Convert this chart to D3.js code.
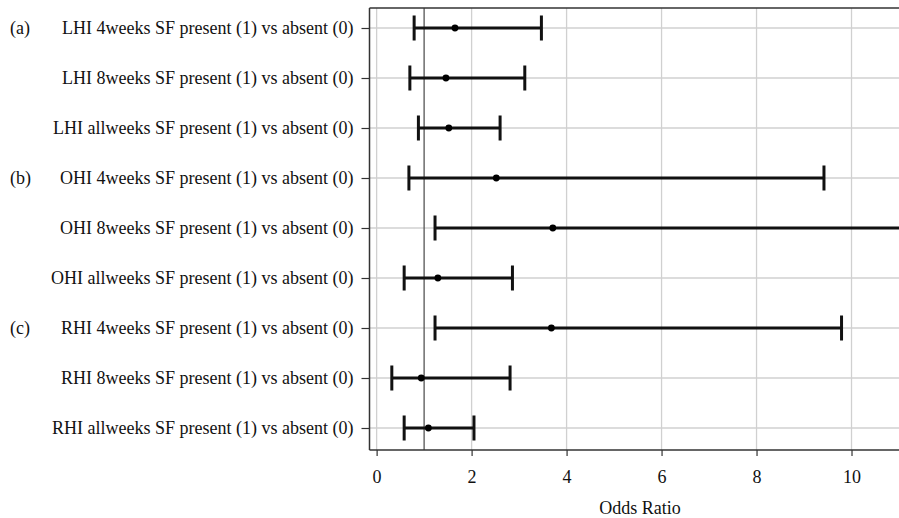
<!DOCTYPE html>
<html>
<head>
<meta charset="utf-8">
<script src="https://cdn.jsdelivr.net/npm/d3@7"></script>
<style>
  body { margin: 0; background: #fff; }
  svg { display: block; font-family: "Liberation Serif", "DejaVu Serif", serif; }
</style>
</head>
<body>
<div id="wrapper"></div>
<script>
// data
const labels = [
  "LHI 4weeks SF present (1) vs absent (0)",
  "LHI 8weeks SF present (1) vs absent (0)",
  "LHI allweeks SF present (1) vs absent (0)",
  "OHI 4weeks SF present (1) vs absent (0)",
  "OHI 8weeks SF present (1) vs absent (0)",
  "OHI allweeks SF present (1) vs absent (0)",
  "RHI 4weeks SF present (1) vs absent (0)",
  "RHI 8weeks SF present (1) vs absent (0)",
  "RHI allweeks SF present (1) vs absent (0)",
];
const groupTags = ["(a)", "", "", "(b)", "", "", "(c)", "", ""];
const oddsRatio = [1.65, 1.46, 1.52, 2.52, 3.71, 1.29, 3.68, 0.94, 1.09];
const lowerCI = [0.79, 0.70, 0.88, 0.68, 1.23, 0.58, 1.23, 0.32, 0.58];
const upperCI = [3.47, 3.12, 2.60, 9.42, 14.0, 2.86, 9.79, 2.81, 2.05];
const xTicks = [0, 2, 4, 6, 8, 10];
const refValue = 1;

const fontSize = "18px";

const dimensions = {
  width: 899,
  height: 518,
  margin: { top: 8, right: 0, bottom: 68, left: 369.5 },
};
dimensions.boundedWidth = dimensions.width - dimensions.margin.left - dimensions.margin.right;
dimensions.boundedHeight = dimensions.height - dimensions.margin.top - dimensions.margin.bottom;

const wrapper = d3.select("#wrapper").append("svg")
  .attr("width", dimensions.width)
  .attr("height", dimensions.height);

const bounds = wrapper.append("g")
  .attr("transform", `translate(${dimensions.margin.left},${dimensions.margin.top})`);

bounds.append("clipPath").attr("id", "plot-clip")
  .append("rect")
  .attr("width", dimensions.boundedWidth)
  .attr("height", dimensions.boundedHeight);

// scales
const xScale = d3.scaleLinear()
  .domain([-0.15, 11.0])
  .range([0, dimensions.boundedWidth]);

const yScale = d3.scalePoint()
  .domain(labels)
  .range([20, dimensions.boundedHeight - 22]);

const rows = labels.map((d, i) => ({
  label: d, tag: groupTags[i], or: oddsRatio[i], lo: lowerCI[i], hi: upperCI[i],
}));

// grid
const grid = bounds.append("g").attr("clip-path", "url(#plot-clip)");
grid.selectAll(".vgrid").data(xTicks).join("line")
  .attr("x1", d => xScale(d)).attr("x2", d => xScale(d))
  .attr("y1", 0).attr("y2", dimensions.boundedHeight)
  .attr("stroke", "#d0d0d0").attr("stroke-width", 1.3);
grid.selectAll(".hgrid").data(labels).join("line")
  .attr("x1", 0).attr("x2", dimensions.boundedWidth)
  .attr("y1", d => yScale(d)).attr("y2", d => yScale(d))
  .attr("stroke", "#d0d0d0").attr("stroke-width", 1.3);

// reference line at OR = 1
grid.append("line")
  .attr("x1", xScale(refValue)).attr("x2", xScale(refValue))
  .attr("y1", 0).attr("y2", dimensions.boundedHeight)
  .attr("stroke", "#555").attr("stroke-width", 1.3);

// error bars
const capHalf = 12.5;
const marks = bounds.append("g").attr("clip-path", "url(#plot-clip)");
const rowGroups = marks.selectAll(".row").data(rows).join("g")
  .attr("transform", d => `translate(0,${yScale(d.label)})`);

rowGroups.append("line")
  .attr("x1", d => xScale(d.lo)).attr("x2", d => xScale(d.hi))
  .attr("stroke", "#111").attr("stroke-width", 3);
rowGroups.append("line")
  .attr("x1", d => xScale(d.lo)).attr("x2", d => xScale(d.lo))
  .attr("y1", -capHalf).attr("y2", capHalf)
  .attr("stroke", "#111").attr("stroke-width", 3);
rowGroups.filter(d => d.hi <= xScale.domain()[1]).append("line")
  .attr("x1", d => xScale(d.hi)).attr("x2", d => xScale(d.hi))
  .attr("y1", -capHalf).attr("y2", capHalf)
  .attr("stroke", "#111").attr("stroke-width", 3);
rowGroups.append("circle")
  .attr("cx", d => xScale(d.or))
  .attr("r", 3.4)
  .attr("fill", "#000");

// frame: top line
bounds.append("line")
  .attr("x1", 0).attr("x2", dimensions.boundedWidth)
  .attr("y1", 0).attr("y2", 0)
  .attr("stroke", "#333").attr("stroke-width", 1.5);

// y axis
const yAxis = bounds.append("g")
  .call(d3.axisLeft(yScale).tickSize(8).tickPadding(8));
yAxis.select(".domain").attr("stroke", "#333").attr("stroke-width", 1.5)
  .attr("d", `M0,0V${dimensions.boundedHeight}`);
yAxis.selectAll(".tick line").attr("stroke", "#333").attr("stroke-width", 1.2);
yAxis.selectAll(".tick text")
  .attr("fill", "#111")
  .style("font-size", fontSize)
  .style("font-family", "'Liberation Serif', serif");

// group tags
bounds.selectAll(".tag").data(rows.filter(d => d.tag)).join("text")
  .attr("x", 10 - dimensions.margin.left)
  .attr("y", d => yScale(d.label))
  .attr("dy", "0.32em")
  .attr("fill", "#111")
  .style("font-size", fontSize)
  .text(d => d.tag);

// x axis
const xAxis = bounds.append("g")
  .attr("transform", `translate(0,${dimensions.boundedHeight})`)
  .call(d3.axisBottom(xScale).tickValues(xTicks).tickSize(6).tickPadding(14).tickFormat(d3.format("d")));
xAxis.select(".domain").attr("stroke", "#333").attr("stroke-width", 1.5)
  .attr("d", `M0,0H${dimensions.boundedWidth}`);
xAxis.selectAll(".tick line").attr("stroke", "#333").attr("stroke-width", 1.2);
xAxis.selectAll(".tick text")
  .attr("fill", "#111")
  .style("font-size", fontSize)
  .style("font-family", "'Liberation Serif', serif");

xAxis.append("text")
  .attr("x", 640 - dimensions.margin.left)
  .attr("y", 64)
  .attr("text-anchor", "middle")
  .attr("fill", "#111")
  .style("font-size", fontSize)
  .style("font-family", "'Liberation Serif', serif")
  .text("Odds Ratio");
</script>
</body>
</html>
